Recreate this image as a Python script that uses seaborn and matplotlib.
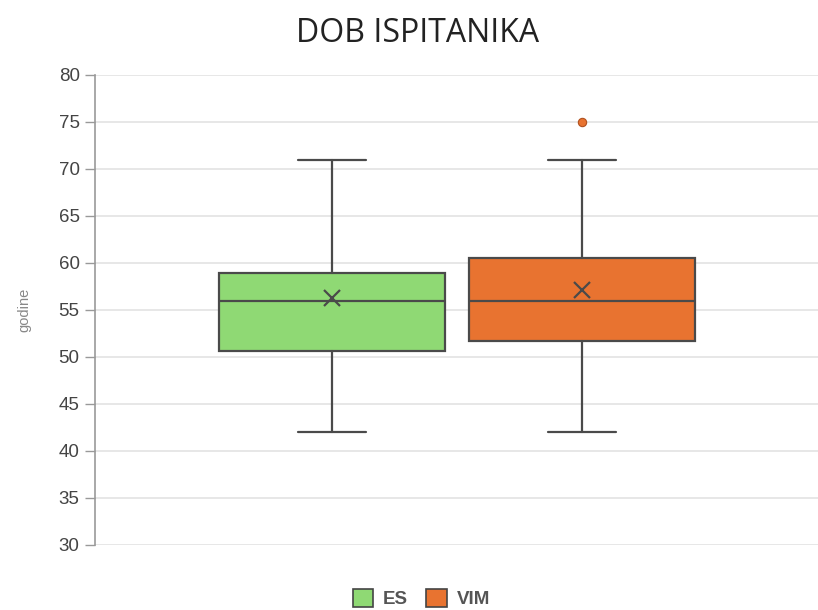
import matplotlib
matplotlib.use("Agg")
import matplotlib.pyplot as plt
from matplotlib.patches import Patch
import seaborn as sns

# values
groups = ["ES", "VIM"]
whislo = [42, 42]
q1 = [50.6, 51.7]
med = [56, 56]
q3 = [58.9, 60.5]
whishi = [71, 71]
means = [56.3, 57.1]
fliers = [[], [75]]
colors = ["#8fd974", "#e87330"]
yticks = [30, 35, 40, 45, 50, 55, 60, 65, 70, 75, 80]

sns.set_theme(style="white")
plt.rcParams["font.family"] = ["Liberation Sans", "DejaVu Sans"]

fig = plt.figure(figsize=(8.18, 6.1), dpi=100)
ax = fig.add_axes([0.1161, 0.1066, 0.8839, 0.7705])

stats = []
for i, g in enumerate(groups):
    stats.append(dict(label=g, whislo=whislo[i], q1=q1[i], med=med[i], q3=q3[i],
                      whishi=whishi[i], mean=means[i], fliers=fliers[i]))

edge = "#4a4a4a"
bp = ax.bxp(stats, positions=range(len(groups)), widths=0.904, capwidths=0.27,
            patch_artist=True, showmeans=True, showfliers=True,
            boxprops=dict(edgecolor=edge, linewidth=1.6),
            medianprops=dict(color=edge, linewidth=1.6),
            whiskerprops=dict(color=edge, linewidth=1.6),
            capprops=dict(color=edge, linewidth=1.6),
            meanprops=dict(marker="x", markersize=11, markeredgecolor=edge,
                           markeredgewidth=1.6),
            zorder=3)
for patch, c in zip(bp["boxes"], colors):
    patch.set_facecolor(c)
for fl, c in zip(bp["fliers"], colors):
    fl.set(marker="o", markersize=6, markerfacecolor=c, markeredgecolor="#b0501e",
           markeredgewidth=0.8)

ax.set_xlim(-0.948, 1.944)
ax.set_ylim(30, 80)
ax.set_yticks(yticks)
ax.set_xticks([])
ax.yaxis.grid(True, color="#e0e0e0", linewidth=1.1, zorder=0)
ax.set_axisbelow(True)
sns.despine(ax=ax, top=True, right=True, bottom=True)
ax.spines["left"].set_color("#999999")
ax.spines["left"].set_linewidth(1.2)
ax.tick_params(axis="y", length=7, width=1, color="#999999", labelsize=13.5,
               labelcolor="#444444", pad=4, left=True)
ax.set_ylabel("godine", fontsize=10.5, color="#888888", labelpad=20)

fig.text(0.51, 0.945, "DOB ISPITANIKA", ha="center", va="center", fontsize=23,
         color="#222222", family=["Open Sans", "DejaVu Sans"])

handles = [Patch(facecolor=c, edgecolor="#444444", linewidth=1.2, label=g)
           for g, c in zip(groups, colors)]
fig.legend(handles=handles, loc="lower center", bbox_to_anchor=(0.515, -0.025),
           ncol=2, frameon=False, handlelength=1.1, handleheight=1.1,
           handletextpad=0.5, columnspacing=1.0,
           prop=dict(size=13.5, weight="bold"), labelcolor="#555555")

fig.savefig("out.png", dpi=100)
